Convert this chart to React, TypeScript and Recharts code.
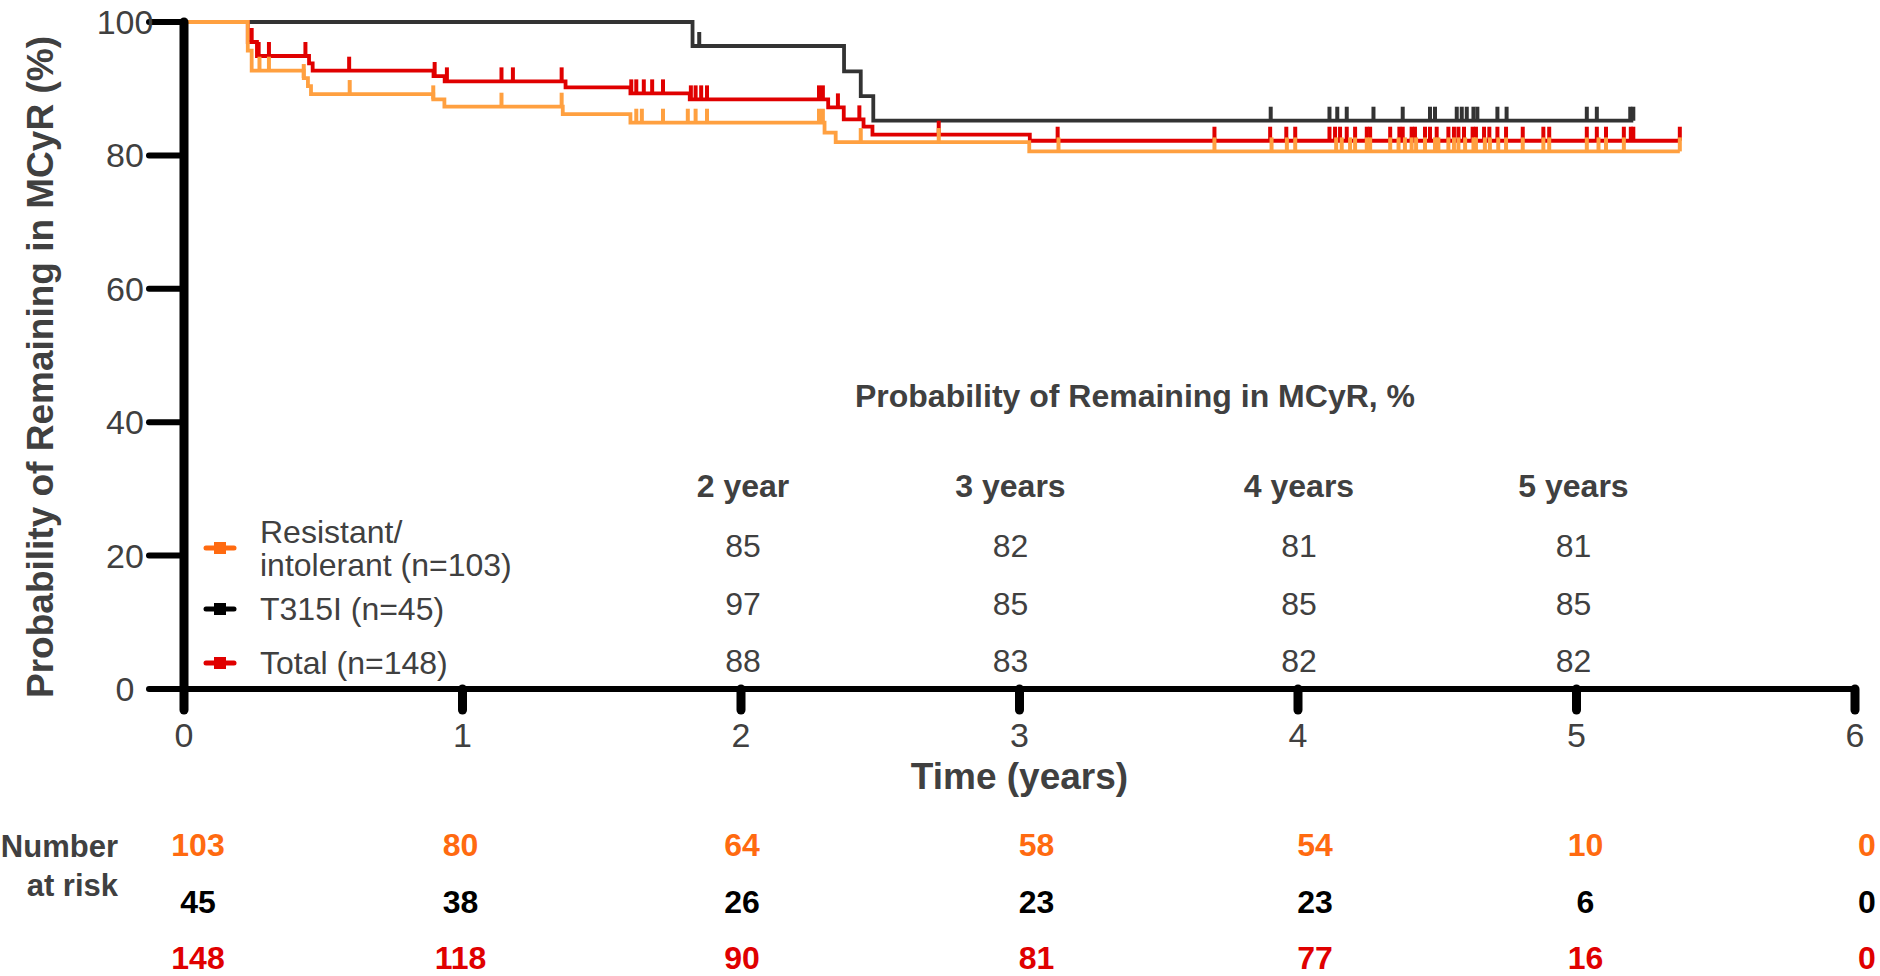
import React from "react";
import { LineChart, Line, XAxis, YAxis } from "recharts";

// page / plot geometry (px)
const W = 1880;
const H = 976;
const PLOT_TOP = 22;
const PLOT_BOTTOM = 689;
const PLOT_LEFT = 184;
const PLOT_RIGHT = 1855;
const X_AXIS_H = 60;

const FONT = 'Arial, "Liberation Sans", sans-serif';
const GRAY = "#404040";

// axis ticks
const X_TICKS = [0, 1, 2, 3, 4, 5, 6];
const Y_TICKS = [0, 20, 40, 60, 80, 100];

// Kaplan-Meier steps [time (years), % remaining] and censor times
const RI_STEPS: [number, number][] = [
  [0, 100], [0.229, 95.7], [0.243, 92.7], [0.43, 91.6], [0.445, 90.4], [0.456, 89.2],
  [0.895, 88.4], [0.935, 87.3], [1.36, 86.2], [1.603, 84.9], [2.3, 83.4], [2.34, 82.0],
  [3.035, 80.6],
];
const RI_CENSORED = [
  0.271, 0.305, 0.43, 0.595, 0.895, 1.14, 1.356, 1.624, 1.644, 1.72, 1.809, 1.837, 1.878,
  2.28, 2.294, 2.43, 2.71, 3.14, 3.7, 3.905, 3.96, 3.99, 4.137, 4.157, 4.187, 4.205, 4.247,
  4.259, 4.331, 4.361, 4.384, 4.408, 4.424, 4.456, 4.492, 4.504, 4.54, 4.56, 4.576, 4.6,
  4.63, 4.639, 4.671, 4.689, 4.719, 4.747, 4.807, 4.881, 4.902, 5.037, 5.079, 5.106, 5.17,
  5.371,
];

const T315I_STEPS: [number, number][] = [
  [0, 100], [1.826, 96.4], [2.37, 92.6], [2.43, 88.9], [2.475, 85.2],
];
const T315I_CENSORED = [
  1.85, 3.902, 4.113, 4.141, 4.175, 4.271, 4.376, 4.474, 4.492, 4.57, 4.588, 4.606, 4.63,
  4.644, 4.716, 4.749, 5.037, 5.073, 5.193, 5.204,
];

const TOTAL_STEPS: [number, number][] = [
  [0, 100], [0.229, 97.0], [0.262, 94.9], [0.449, 93.8], [0.462, 92.7], [0.896, 91.9],
  [0.936, 91.1], [1.37, 90.2], [1.603, 89.3], [1.816, 88.4], [2.313, 87.2], [2.369, 85.4],
  [2.44, 84.3], [2.472, 83.1], [3.037, 82.2],
];
const TOTAL_CENSORED = [
  0.243, 0.268, 0.305, 0.436, 0.593, 0.9, 0.944, 1.14, 1.181, 1.356, 1.606, 1.624, 1.651,
  1.681, 1.72, 1.82, 1.837, 1.857, 1.878, 2.28, 2.294, 2.348, 2.425, 2.71, 3.137, 3.7, 3.9,
  3.958, 3.99, 4.113, 4.133, 4.151, 4.175, 4.205, 4.247, 4.259, 4.331, 4.364, 4.376, 4.408,
  4.42, 4.456, 4.474, 4.498, 4.54, 4.56, 4.576, 4.596, 4.627, 4.639, 4.668, 4.687, 4.716,
  4.747, 4.807, 4.881, 4.902, 5.037, 5.073, 5.106, 5.17, 5.195, 5.204, 5.371,
];

// number at risk at each x tick
const AT_RISK_RI = [103, 80, 64, 58, 54, 10, 0];
const AT_RISK_T315I = [45, 38, 26, 23, 23, 6, 0];
const AT_RISK_TOTAL = [148, 118, 90, 81, 77, 16, 0];

// probability of remaining in MCyR table
const TABLE_HEADERS = ["2 year", "3 years", "4 years", "5 years"];
const TABLE_YEARS = [2, 3, 4, 5];
const TABLE_RI = [85, 82, 81, 81];
const TABLE_T315I = [97, 85, 85, 85];
const TABLE_TOTAL = [88, 83, 82, 82];

type Pt = { t: number; s: number; c: boolean };

function buildCurve(steps: [number, number][], censored: number[]): Pt[] {
  const levelAt = (t: number) => {
    let s = steps[0][1];
    for (const [st, sv] of steps) if (st <= t) s = sv;
    return s;
  };
  const pts: Pt[] = [
    ...steps.map(([t, s]) => ({ t, s, c: false })),
    ...censored.map((t) => ({ t, s: levelAt(t), c: true })),
  ];
  return pts.sort((a, b) => a.t - b.t || Number(a.c) - Number(b.c));
}

const ORANGE_TXT = "#ff6a10";
const RED = "#e00000";

// drawn bottom to top
const SERIES = [
  { key: "t315i", line: "#333333", data: buildCurve(T315I_STEPS, T315I_CENSORED) },
  { key: "total", line: RED, data: buildCurve(TOTAL_STEPS, TOTAL_CENSORED) },
  { key: "ri", line: "#ffa040", data: buildCurve(RI_STEPS, RI_CENSORED) },
];

const LEGEND = [
  { lines: ["Resistant/", "intolerant (n=103)"], color: ORANGE_TXT },
  { lines: ["T315I (n=45)"], color: "#000" },
  { lines: ["Total (n=148)"], color: RED },
];
const LEGEND_Y = [548, 609, 663];

const AT_RISK_ROWS = [
  { values: AT_RISK_RI, color: ORANGE_TXT },
  { values: AT_RISK_T315I, color: "#000" },
  { values: AT_RISK_TOTAL, color: RED },
];
const AT_RISK_DX = [14, -2, 1, 17, 17, 9, 12];

const TABLE_ROWS = [TABLE_RI, TABLE_T315I, TABLE_TOTAL];
const TABLE_DX = [2, -9, 1, -3];

const xPx = (t: number) => PLOT_LEFT + (t / 6) * (PLOT_RIGHT - PLOT_LEFT);

function censorDot(color: string) {
  return (props: any) => {
    const { cx, cy, payload, index } = props;
    if (!payload || !payload.c || cx == null) return <g key={`n${index}`} />;
    return (
      <line
        key={`c${index}`}
        x1={cx}
        y1={cy}
        x2={cx}
        y2={cy - 14}
        stroke={color}
        strokeWidth={4}
      />
    );
  };
}

function XTick(props: any) {
  const { x, payload } = props;
  const i = X_TICKS.indexOf(payload.value);
  return (
    <g fontFamily={FONT}>
      <text x={x} y={PLOT_BOTTOM + 46} textAnchor="middle" dominantBaseline="central" fill={GRAY} fontSize={34}>
        {payload.value}
      </text>
      {AT_RISK_ROWS.map((r, k) => (
        <text
          key={k}
          x={x + AT_RISK_DX[i]}
          y={PLOT_BOTTOM + 156 + k * 56.5}
          textAnchor="middle"
          dominantBaseline="central"
          fill={r.color}
          fontSize={32}
          fontWeight="bold"
        >
          {r.values[i]}
        </text>
      ))}
    </g>
  );
}

function YTick(props: any) {
  const { y, payload } = props;
  return (
    <text x={125} y={y} textAnchor="middle" dominantBaseline="central" fill={GRAY} fontSize={34} fontFamily={FONT}>
      {payload.value}
    </text>
  );
}

export default function App() {
  return (
    <div style={{ position: "absolute", left: 0, top: 0, width: W, height: H, background: "#fff", fontFamily: FONT }}>
      <LineChart
        width={W}
        height={H}
        margin={{ top: PLOT_TOP, right: W - PLOT_RIGHT, left: 0, bottom: H - PLOT_BOTTOM - X_AXIS_H }}
      >
        <XAxis
          type="number"
          dataKey="t"
          domain={[0, 6]}
          ticks={X_TICKS}
          height={X_AXIS_H}
          tickSize={21}
          axisLine={{ stroke: "#000", strokeWidth: 6, strokeLinecap: "round" }}
          tickLine={{ stroke: "#000", strokeWidth: 9, strokeLinecap: "round" }}
          tick={<XTick />}
          interval={0}
          label={{
            value: "Time (years)",
            position: "bottom",
            offset: 14,
            fill: GRAY,
            fontSize: 37,
            fontWeight: "bold",
            fontFamily: FONT,
          }}
        />
        <YAxis
          type="number"
          dataKey="s"
          domain={[0, 100]}
          ticks={Y_TICKS}
          width={PLOT_LEFT}
          tickSize={35}
          axisLine={{ stroke: "#000", strokeWidth: 9, strokeLinecap: "round" }}
          tickLine={{ stroke: "#000", strokeWidth: 6, strokeLinecap: "round" }}
          tick={<YTick />}
          interval={0}
        />
        {SERIES.map((s) => (
          <Line
            key={s.key}
            data={s.data}
            dataKey="s"
            type="stepAfter"
            stroke={s.line}
            strokeWidth={3.8}
            dot={censorDot(s.line)}
            activeDot={false}
            isAnimationActive={false}
          />
        ))}
      </LineChart>

      <svg
        width={W}
        height={H}
        style={{ position: "absolute", left: 0, top: 0, pointerEvents: "none" }}
        fontFamily={FONT}
      >
        <text
          x={40}
          y={367}
          transform="rotate(-90 40 367)"
          textAnchor="middle"
          dominantBaseline="central"
          fill={GRAY}
          fontSize={37}
          fontWeight="bold"
        >
          Probability of Remaining in MCyR (%)
        </text>

        {/* legend */}
        {LEGEND.map((item, i) => {
          const cy = LEGEND_Y[i];
          return (
            <g key={i}>
              <line x1={206} x2={234} y1={cy} y2={cy} stroke={item.color} strokeWidth={5} strokeLinecap="round" />
              <rect x={214} y={cy - 6} width={12} height={12} fill={item.color} />
              {item.lines.map((l, k) => (
                <text
                  key={k}
                  x={260}
                  y={cy + (k - (item.lines.length - 1) / 2) * 33}
                  dominantBaseline="central"
                  fill={GRAY}
                  fontSize={32}
                >
                  {l}
                </text>
              ))}
            </g>
          );
        })}

        {/* MCyR table */}
        <text x={1135} y={396} textAnchor="middle" dominantBaseline="central" fill={GRAY} fontSize={32} fontWeight="bold">
          Probability of Remaining in MCyR, %
        </text>
        {TABLE_YEARS.map((yr, j) => (
          <g key={yr}>
            <text x={xPx(yr) + TABLE_DX[j]} y={486} textAnchor="middle" dominantBaseline="central" fill={GRAY} fontSize={32} fontWeight="bold">
              {TABLE_HEADERS[j]}
            </text>
            {TABLE_ROWS.map((row, k) => (
              <text key={k} x={xPx(yr) + TABLE_DX[j]} y={546 + k * 57.5} textAnchor="middle" dominantBaseline="central" fill={GRAY} fontSize={32}>
                {row[j]}
              </text>
            ))}
          </g>
        ))}

        {/* number at risk label */}
        <text x={118} y={846} textAnchor="end" dominantBaseline="central" fill={GRAY} fontSize={31} fontWeight="bold">
          Number
        </text>
        <text x={118} y={885} textAnchor="end" dominantBaseline="central" fill={GRAY} fontSize={31} fontWeight="bold">
          at risk
        </text>
      </svg>
    </div>
  );
}
